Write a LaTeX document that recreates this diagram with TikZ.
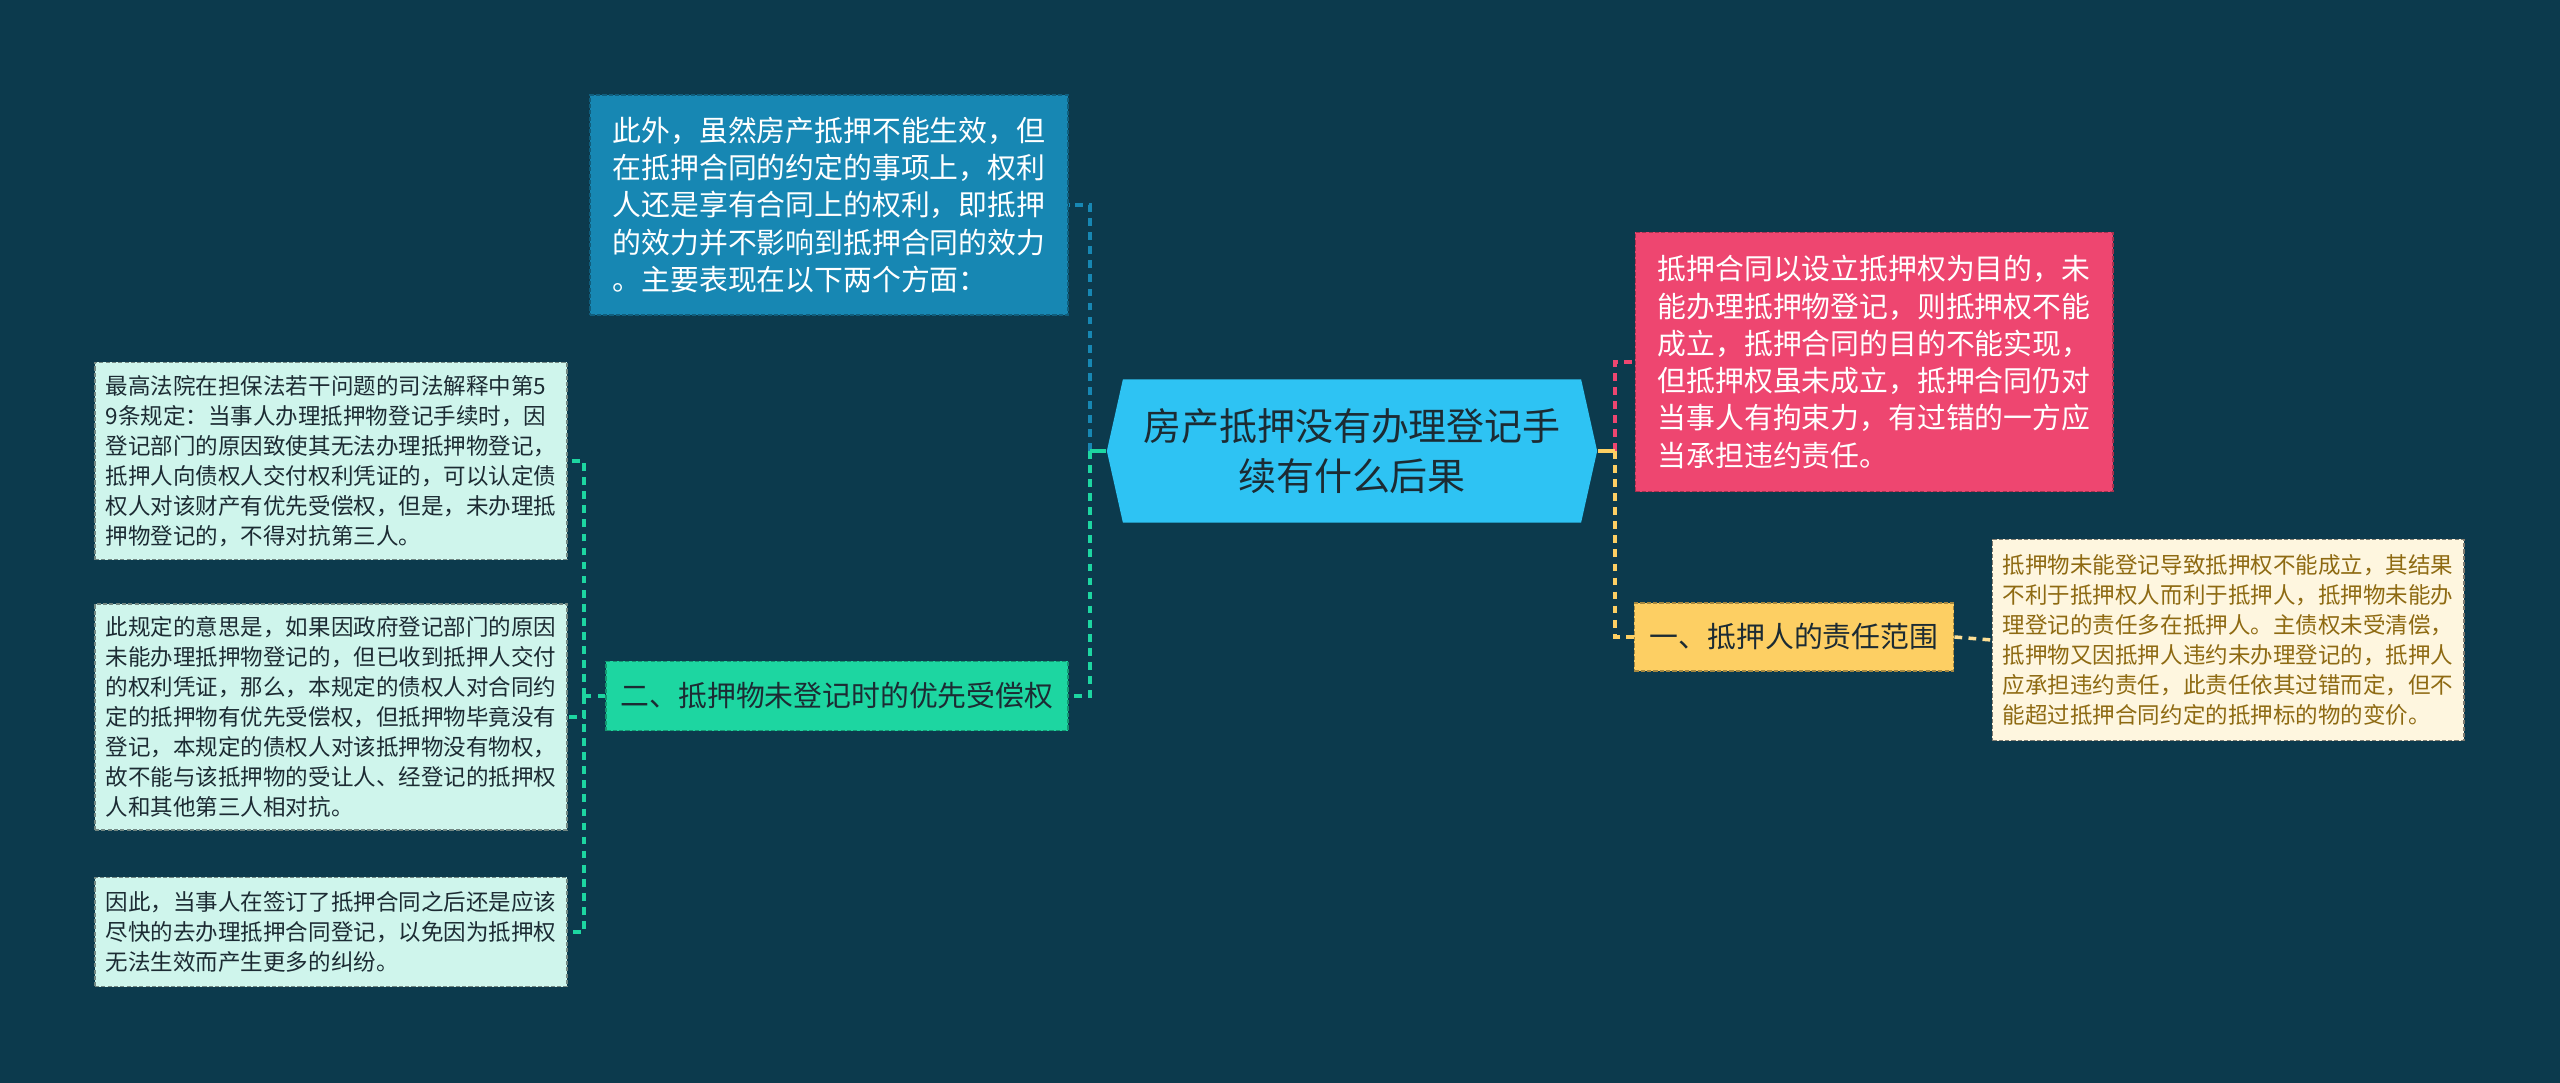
\documentclass[tikz,border=0pt]{standalone}
\usepackage{fontspec}
\setmainfont{Noto Sans CJK SC}
\definecolor{bgc}{HTML}{0C3A4D}
\definecolor{rootc}{HTML}{2EC3F3}
\definecolor{bluec}{HTML}{1787B3}
\definecolor{pinkc}{HTML}{EE4670}
\definecolor{yelc}{HTML}{FDCF63}
\definecolor{ltyelc}{HTML}{FEF6DF}
\definecolor{grnc}{HTML}{1DD6A1}
\definecolor{mintc}{HTML}{CFF5EC}
\definecolor{darktext}{HTML}{1C2B33}
\definecolor{goldtext}{HTML}{8E6A12}
\begin{document}
\begin{tikzpicture}[x=0.01cm, y=-0.01cm,
  box/.style={rectangle, align=left, inner sep=0pt, line width=0.5pt, dash pattern=on 1.2pt off 0.6pt},
  bigtext/.style={font=\fontsize{10.8pt}{14.2pt}\selectfont},
  midtext/.style={font=\fontsize{8.2pt}{10.6pt}\selectfont},
  smalltext/.style={font=\fontsize{6.4pt}{8.5pt}\selectfont},
  link/.style={line width=1pt, dash pattern=on 2.2pt off 1.8pt},
  stub/.style={line width=1pt}]
  \fill[bgc] (0,0) rectangle (2560,1083);
  \useasboundingbox (0,0) rectangle (2560,1083);

  % centre
  \node[bigtext, align=center, text=darktext, fill=bgc, minimum width=4.9cm, minimum height=1.43cm, inner sep=0pt,
    path picture={\fill[rootc] (path picture bounding box.west)
      -- ([xshift=0.16cm]path picture bounding box.north west)
      -- ([xshift=-0.16cm]path picture bounding box.north east)
      -- (path picture bounding box.east)
      -- ([xshift=-0.16cm]path picture bounding box.south east)
      -- ([xshift=0.16cm]path picture bounding box.south west) -- cycle;}]
    (root) at (1352,451) {房产抵押没有办理登记手\\续有什么后果};

  % left branch
  \node[box, midtext, fill=bluec, draw=bluec!70!black, text=white, minimum width=4.77cm, minimum height=2.2cm]
    (effect) at (829,205) {此外，虽然房产抵押不能生效，但\\在抵押合同的约定的事项上，权利\\人还是享有合同上的权利，即抵押\\的效力并不影响到抵押合同的效力\\。主要表现在以下两个方面：};
  \node[box, midtext, fill=grnc, draw=grnc!70!black, text=darktext, minimum width=4.61cm, minimum height=0.69cm]
    (prior) at (837,696) {二、抵押物未登记时的优先受偿权};
  \node[box, smalltext, fill=mintc, draw=mintc!55!black, text=darktext, minimum width=4.72cm, minimum height=1.97cm]
    (rule) at (331,461) {最高法院在担保法若干问题的司法解释中第5\\9条规定：当事人办理抵押物登记手续时，因\\登记部门的原因致使其无法办理抵押物登记，\\抵押人向债权人交付权利凭证的，可以认定债\\权人对该财产有优先受偿权，但是，未办理抵\\押物登记的，不得对抗第三人。};
  \node[box, smalltext, fill=mintc, draw=mintc!55!black, text=darktext, minimum width=4.72cm, minimum height=2.26cm]
    (meaning) at (331,717) {此规定的意思是，如果因政府登记部门的原因\\未能办理抵押物登记的，但已收到抵押人交付\\的权利凭证，那么，本规定的债权人对合同约\\定的抵押物有优先受偿权，但抵押物毕竟没有\\登记，本规定的债权人对该抵押物没有物权，\\故不能与该抵押物的受让人、经登记的抵押权\\人和其他第三人相对抗。};
  \node[box, smalltext, fill=mintc, draw=mintc!55!black, text=darktext, minimum width=4.72cm, minimum height=1.09cm]
    (advice) at (331,932) {因此，当事人在签订了抵押合同之后还是应该\\尽快的去办理抵押合同登记，以免因为抵押权\\无法生效而产生更多的纠纷。};

  % right branch
  \node[box, midtext, fill=pinkc, draw=pinkc!70!black, text=white, minimum width=4.77cm, minimum height=2.59cm]
    (purpose) at (1874,362) {抵押合同以设立抵押权为目的，未\\能办理抵押物登记，则抵押权不能\\成立，抵押合同的目的不能实现，\\但抵押权虽未成立，抵押合同仍对\\当事人有拘束力，有过错的一方应\\当承担违约责任。};
  \node[box, midtext, fill=yelc, draw=yelc!65!black, text=darktext, minimum width=3.19cm, minimum height=0.68cm]
    (duty) at (1794,637) {一、抵押人的责任范围};
  \node[box, smalltext, fill=ltyelc, draw=ltyelc!50!black, text=goldtext, minimum width=4.71cm, minimum height=2.01cm]
    (dutytext) at (2228,640) {抵押物未能登记导致抵押权不能成立，其结果\\不利于抵押权人而利于抵押人，抵押物未能办\\理登记的责任多在抵押人。主债权未受清偿，\\抵押物又因抵押人违约未办理登记的，抵押人\\应承担违约责任，此责任依其过错而定，但不\\能超过抵押合同约定的抵押标的物的变价。};

  \coordinate (lj) at (1090,451);
  \coordinate (gj) at (584,696);
  \coordinate (rj) at (1615,451);

  \draw[link, bluec] (lj) |- (effect.east);
  \draw[link, grnc] (lj) |- (prior.east);
  \draw[stub, grnc] (root.west) -- (lj);
  \draw[link, grnc] (prior.west) -- (gj);
  \draw[link, grnc] (gj) |- (rule.east);
  \draw[link, grnc] (gj) |- (meaning.east);
  \draw[link, grnc] (gj) |- (advice.east);

  \draw[link, pinkc] (rj) |- (purpose.west);
  \draw[link, yelc] (rj) |- (duty.west);
  \draw[stub, yelc] (root.east) -- (rj);
  \draw[link, yelc!60!ltyelc] (duty.east) -- (dutytext.west);
\end{tikzpicture}
\end{document}
